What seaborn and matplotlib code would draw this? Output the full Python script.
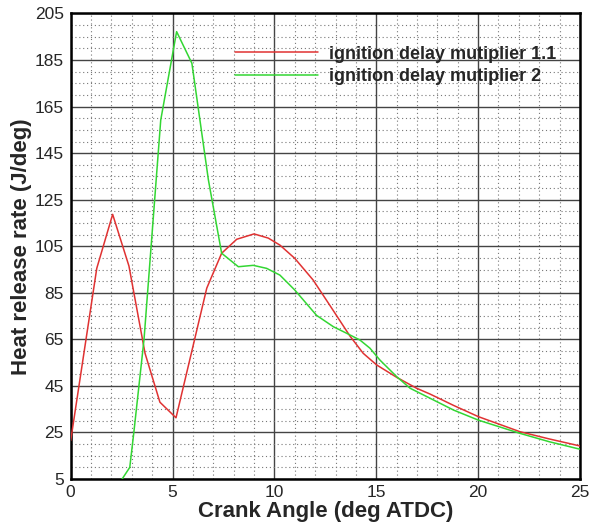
import numpy as np
import pandas as pd
import matplotlib
matplotlib.use("Agg")
import matplotlib.pyplot as plt
from matplotlib.ticker import MultipleLocator
import seaborn as sns

# ---- data ----
labels = ["ignition delay mutiplier 1.1", "ignition delay mutiplier 2"]

red_x = [0.0, 1.28, 2.06, 2.86, 3.65, 4.38, 5.17, 6.68, 7.41, 8.15, 9.0, 9.7,
         10.27, 11.0, 11.9, 12.73, 13.71, 14.36, 15.02, 16.0, 16.98, 17.64,
         18.8, 20.01, 22.06, 23.5, 25.0]
red_y = [21.5, 95.5, 118.7, 96.5, 59.0, 38.0, 31.3, 87.0, 102.0, 108.0, 110.3, 108.5,
         105.5, 99.8, 90.5, 79.5, 66.4, 59.0, 54.0, 48.7, 44.0, 41.5,
         36.6, 31.8, 25.3, 22.2, 19.2]

green_x = [2.45, 2.9, 3.1, 3.6, 4.42, 5.2, 5.95, 6.76, 7.41, 8.23, 8.96, 9.62,
           10.27, 11.0, 12.07, 12.9, 13.55, 14.2, 14.69, 15.18, 16.0, 16.66,
           17.64, 18.8, 20.01, 22.06, 23.5, 25.0]
green_y = [4.0, 10.0, 25.0, 65.0, 159.2, 197.2, 183.6, 133.5, 102.0, 96.2, 96.8, 95.5,
           92.6, 86.2, 75.3, 70.4, 67.6, 64.7, 61.2, 56.1, 49.0, 44.0,
           39.7, 34.6, 30.3, 24.6, 21.0, 17.8]

x_ticks = [0, 5, 10, 15, 20, 25]
y_ticks = [5, 25, 45, 65, 85, 105, 125, 145, 165, 185, 205]

df = pd.concat([
    pd.DataFrame({"x": red_x, "y": red_y, "series": labels[0]}),
    pd.DataFrame({"x": green_x, "y": green_y, "series": labels[1]}),
], ignore_index=True)

sns.set_style("white")
plt.rcParams["font.family"] = ["Liberation Sans", "DejaVu Sans"]

fig = plt.figure(figsize=(5.92, 5.31), dpi=100)
ax = fig.add_axes([0.1194, 0.0979, 0.8603, 0.8767])

sns.lineplot(data=df, x="x", y="y", hue="series", sort=False,
             palette={labels[0]: "#e03232", labels[1]: "#33d633"},
             linewidth=1.1, ax=ax, legend=True, zorder=3)

ax.set_xlim(0, 25)
ax.set_ylim(5, 205)
ax.set_xticks(x_ticks)
ax.set_yticks(y_ticks)
ax.xaxis.set_minor_locator(MultipleLocator(1))
ax.yaxis.set_minor_locator(MultipleLocator(5))

ax.grid(which="major", color="#444444", linewidth=1.0, linestyle="-", zorder=1)
ax.grid(which="minor", color="#777777", linewidth=0.8, linestyle=(0, (1, 2.5)), zorder=1)
ax.set_axisbelow(True)

for s in ax.spines.values():
    s.set_color("black")
    s.set_linewidth(1.8)

ax.tick_params(axis="both", which="major", direction="in", length=7, width=1.5,
               labelsize=12.5, color="black", pad=4)
ax.tick_params(axis="both", which="minor", direction="in", length=4.5, width=1.0,
               color="black")
ax.tick_params(axis="y", which="major", pad=5)

ax.set_xlabel("Crank Angle (deg ATDC)", fontsize=16, fontweight="bold", labelpad=1)
ax.set_ylabel("Heat release rate (J/deg)", fontsize=16, fontweight="bold", labelpad=2)

ax.legend(loc="upper left", bbox_to_anchor=(0.3226, 0.931), frameon=False,
          prop={"weight": "bold", "size": 13}, handlelength=4.6,
          handletextpad=0.6, labelspacing=0.3, borderpad=0, borderaxespad=0)

fig.savefig("out.png", dpi=100)
